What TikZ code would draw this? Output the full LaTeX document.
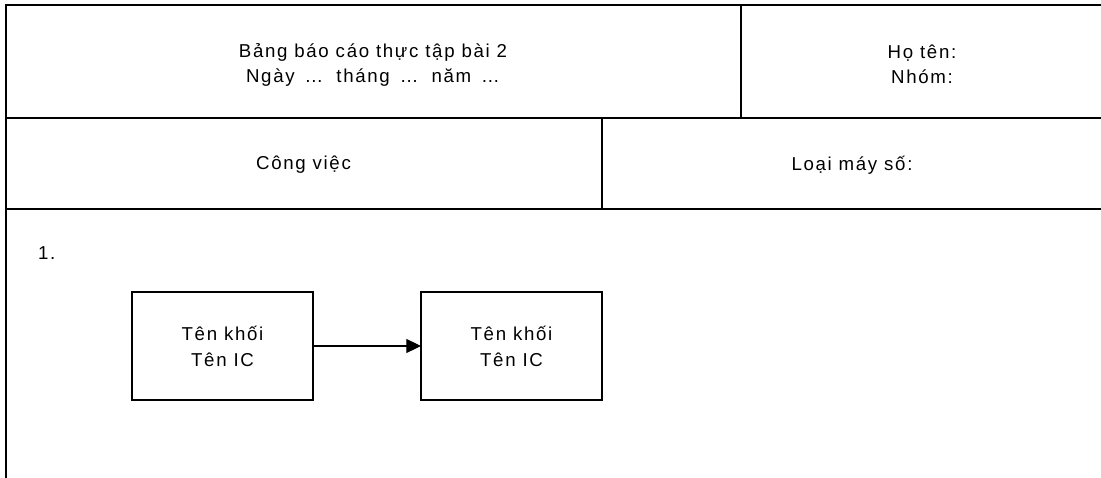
\documentclass[tikz,border=0pt]{standalone}
\usepackage{fontspec}
\setmainfont[LetterSpace=9]{Liberation Sans}
\usetikzlibrary{arrows.meta}
\begin{document}
\begin{tikzpicture}[x=0.75pt,y=-0.75pt,
  every node/.style={inner sep=0pt,outer sep=0pt,font=\fontsize{14pt}{18.75pt}\selectfont},
  rule/.style={line width=1.6pt},
  thinrule/.style={line width=1pt},
  block/.style={draw,line width=1.2pt,minimum width=135.75pt,minimum height=81pt,align=center,font=\fontsize{14pt}{19.5pt}\selectfont},
  conn/.style={line width=0.8pt,-{Triangle[length=11pt,width=10.5pt]}}]
\useasboundingbox (0,0) rectangle (1101,478);
% table lines
\coordinate (tl) at (5,5);
\coordinate (tr) at (1101,5);
\coordinate (bl) at (6,478);
\draw[rule] (tl) -- (tr);
\draw[rule] (6,5) -- (bl);
\draw[rule] (6,118) -- (1101,118);
\draw[rule] (6,209) -- (1101,209);
\draw[thinrule] (741,5) -- (741,118);
\draw[thinrule] (602,118) -- (602,209);
% texts
\node[align=center] (title) at (373,65) {Bảng báo cáo thực tập bài 2\\Ngày \,…\,\, tháng \,…\,\, năm \,…};
\node[align=center] (name) at (922,64) {Họ tên:\\Nhóm:};
\node (job) at (303.5,165) {Công việc};
\node (machine) at (852,165) {Loại máy số:};
\node[anchor=base west] (num) at (38,259) {1.};
% blocks
\node[block] (b1) at (222.5,346) {Tên khối\\Tên IC};
\node[block] (b2) at (511.5,346) {Tên khối\\Tên IC};
\draw[conn] (b1.east) -- (b2.west);
\end{tikzpicture}
\end{document}
